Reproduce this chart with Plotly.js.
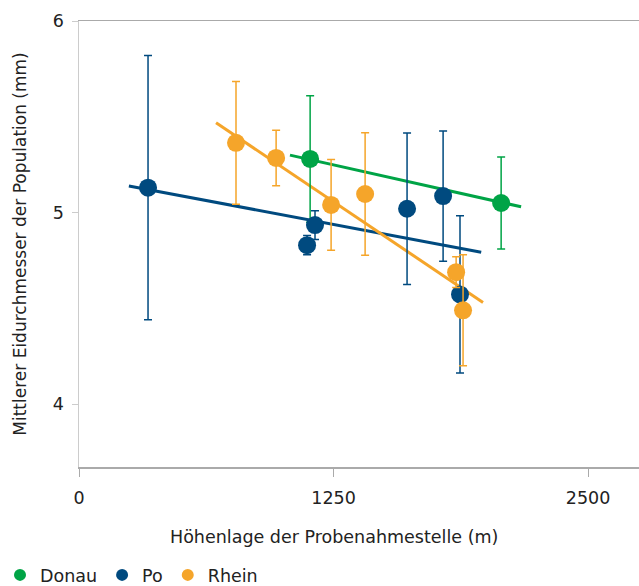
<!DOCTYPE html>
<html>
<head>
<meta charset="utf-8">
<script src="https://cdn.plot.ly/plotly-3.0.1.min.js"></script>
<style>html,body{margin:0;padding:0;background:#fff;}#chart{width:639px;height:586px;}</style>
</head>
<body>
<div id="chart"></div>
<script>
// Donau
const donauX = [1135, 2073];
const donauY = [5.28, 5.05];
const donauErr = [0.33, 0.24];
const donauFitX = [1036, 2171];
const donauFitY = [5.30, 5.03];
// Po
const poX = [339, 1120, 1159, 1611, 1788, 1871];
const poY = [5.13, 4.83, 4.935, 5.02, 5.086, 4.573];
const poErr = [0.69, 0.05, 0.075, 0.395, 0.34, 0.41];
const poFitX = [245, 1975];
const poFitY = [5.139, 4.793];
// Rhein
const rheinX = [771, 968, 1238, 1405, 1852, 1886];
const rheinY = [5.364, 5.285, 5.04, 5.097, 4.689, 4.49];
const rheinErr = [0.32, 0.145, 0.237, 0.32, 0.08, 0.29];
const rheinFitX = [673, 1984];
const rheinFitY = [5.469, 4.531];

const names = ["Donau", "Po", "Rhein"];
const colors = ["#00a446", "#004a7f", "#f5a52a"];
const xTicks = [0, 1250, 2500];
const yTicks = [4, 5, 6];
const xTitle = 'Höhenlage der Probenahmestelle (m)';
const yTitle = 'Mittlerer Eidurchmesser der Population (mm)';

const series = [
  {x: donauX, y: donauY, e: donauErr, fx: donauFitX, fy: donauFitY},
  {x: poX, y: poY, e: poErr, fx: poFitX, fy: poFitY},
  {x: rheinX, y: rheinY, e: rheinErr, fx: rheinFitX, fy: rheinFitY}
];

const traces = [];
series.forEach((s, i) => {
  traces.push({
    x: s.fx, y: s.fy, mode: 'lines', type: 'scatter', showlegend: false,
    hoverinfo: 'skip', line: {color: colors[i], width: 3}
  });
});
series.forEach((s, i) => {
  traces.push({
    x: s.x, y: s.y, mode: 'markers', type: 'scatter', name: names[i],
    marker: {color: colors[i], size: 18},
    error_y: {type: 'data', array: s.e, visible: true, color: colors[i], thickness: 1.5, width: 4}
  });
});

const layout = {
  width: 639, height: 586,
  margin: {l: 79, r: 0, t: 21, b: 119},
  font: {family: 'DejaVu Sans, sans-serif', size: 17, color: '#222'},
  paper_bgcolor: '#fff', plot_bgcolor: '#fff',
  xaxis: {
    range: [0, 2750], tickvals: xTicks, ticktext: xTicks.map(String), automargin: false,
    showgrid: false, zeroline: false, showline: true, mirror: true, linecolor: '#aaa', linewidth: 1.5,
    ticks: 'outside', ticklen: 8, tickcolor: '#aaa', tickfont: {size: 17.5}, ticklabelstandoff: 6
  },
  yaxis: {
    range: [3.672, 6.0], tickvals: yTicks, ticktext: yTicks.map(String), automargin: false,
    showgrid: false, zeroline: false, showline: true, linecolor: '#ccc', linewidth: 1.5,
    ticks: 'outside', ticklen: 6, tickcolor: '#ccc', tickfont: {size: 17.5}, ticklabelstandoff: 4,
    title: {text: yTitle, font: {size: 17}, standoff: 22}
  },
  annotations: [{
    text: xTitle, xref: 'paper', yref: 'paper', x: 0.4554, y: -0.157,
    xanchor: 'center', yanchor: 'middle', showarrow: false, font: {size: 17.5}
  }],
  legend: {orientation: 'h', xref: 'container', x: -0.01, xanchor: 'left',
           yref: 'container', y: 1 - 575/586, yanchor: 'middle',
           font: {size: 17.5}, itemsizing: 'constant', traceorder: 'normal'},
  showlegend: true
};

Plotly.newPlot('chart', traces, layout, {displayModeBar: false, staticPlot: true});
</script>
</body>
</html>
